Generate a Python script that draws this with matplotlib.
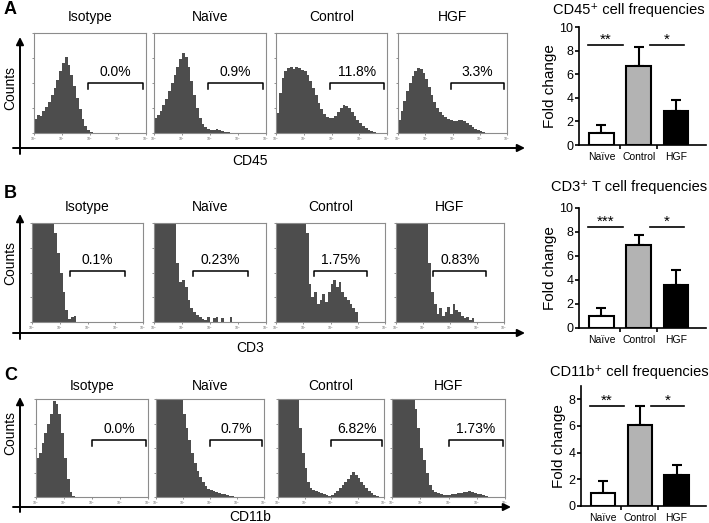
import numpy as np
import matplotlib.pyplot as plt

plt.rcParams['font.family'] = ['Liberation Sans', 'DejaVu Sans']

# flow histograms: counts (% of panel height) in 0.1-decade bins, log10 0..4
iso_a = [14, 18, 17, 22, 26, 31, 38, 45, 53, 62, 70, 76, 68, 58, 47, 35, 24, 14, 7, 3,
         1, 0, 0, 0, 0, 0, 0, 0, 0, 0, 0, 0, 0, 0, 0, 0, 0, 0, 0, 0]
naive_a = [15, 18, 22, 28, 34, 42, 50, 58, 66, 74, 80, 76, 66, 52, 38, 25, 15, 9, 6, 4,
           3, 3, 4, 3, 2, 1, 1, 0, 0, 0, 0, 0, 0, 0, 0, 0, 0, 0, 0, 0]
ctrl_a = [20, 40, 55, 62, 65, 66, 64, 66, 65, 63, 62, 58, 52, 45, 38, 30, 24, 19, 16, 15,
          15, 17, 21, 25, 28, 27, 25, 21, 17, 13, 10, 7, 5, 3, 2, 1, 0, 0, 0, 0]
hgf_a = [13, 22, 32, 42, 50, 57, 62, 65, 64, 60, 54, 46, 38, 31, 25, 21, 18, 16, 14, 13,
         12, 12, 13, 13, 12, 10, 8, 6, 4, 3, 2, 1, 0, 0, 0, 0, 0, 0, 0, 0]

iso_b = [150, 150, 150, 150, 150, 150, 150, 150, 90, 70, 50, 30, 12, 3, 5, 6, 0, 0, 0, 0,
         0, 0, 0, 0, 0, 0, 0, 0, 0, 0, 0, 0, 0, 0, 0, 0, 0, 0, 0, 0]
naive_b = [150, 150, 150, 150, 150, 150, 150, 120, 60, 40, 42, 35, 22, 14, 10, 7, 5, 3, 2, 5,
           0, 4, 5, 0, 4, 0, 0, 5, 0, 0, 0, 0, 0, 0, 0, 0, 0, 0, 0, 0]
ctrl_b = [150, 150, 150, 150, 150, 150, 150, 150, 150, 150, 150, 90, 38, 25, 30, 18, 22, 28, 20, 30,
          38, 42, 35, 40, 30, 25, 22, 18, 14, 10, 0, 0, 0, 0, 0, 0, 0, 0, 0, 0]
hgf_b = [150, 150, 150, 150, 150, 150, 150, 150, 150, 150, 150, 110, 60, 30, 18, 8, 14, 6, 10, 15,
         8, 18, 12, 10, 6, 4, 5, 2, 4, 0, 0, 0, 0, 0, 0, 0, 0, 0, 0, 0]

iso_c = [40, 45, 55, 65, 75, 85, 98, 95, 85, 65, 40, 18, 5, 1, 0, 0, 0, 0, 0, 0,
         0, 0, 0, 0, 0, 0, 0, 0, 0, 0, 0, 0, 0, 0, 0, 0, 0, 0, 0, 0]
naive_c = [150, 150, 150, 150, 150, 150, 150, 150, 150, 100, 85, 70, 58, 45, 35, 27, 20, 15, 11, 8,
           7, 6, 5, 4, 3, 3, 2, 1, 1, 0, 0, 0, 0, 0, 0, 0, 0, 0, 0, 0]
ctrl_c = [150, 150, 150, 150, 150, 150, 150, 120, 70, 45, 30, 15, 9, 7, 6, 5, 4, 3, 2, 1,
          2, 4, 6, 9, 12, 15, 18, 22, 26, 22, 19, 15, 12, 9, 6, 4, 2, 1, 0, 0]
hgf_c = [150, 150, 150, 150, 150, 150, 150, 150, 90, 70, 50, 38, 25, 12, 7, 5, 4, 3, 2, 2,
         2, 3, 3, 4, 4, 5, 5, 6, 5, 4, 3, 3, 2, 1, 0, 0, 0, 0, 0, 0]

groups = ['Isotype', 'Naïve', 'Control', 'HGF']
pct_a = ['0.0%', '0.9%', '11.8%', '3.3%']
pct_b = ['0.1%', '0.23%', '1.75%', '0.83%']
pct_c = ['0.0%', '0.7%', '6.82%', '1.73%']

# bar charts (fold change)
bar_labels = ['Naïve', 'Control', 'HGF']
fold_a = [1.0, 6.7, 2.9]
err_a = [0.7, 1.6, 0.9]
fold_b = [1.0, 6.9, 3.6]
err_b = [0.7, 0.85, 1.2]
fold_c = [1.0, 6.05, 2.3]
err_c = [0.85, 1.45, 0.8]
bar_colors = ['white', '#b3b3b3', 'black']

W, H = 709, 523
fig = plt.figure(figsize=(W / 100, H / 100), dpi=100)


def box(x0, y0, x1, y1):
    return [x0 / W, 1 - y1 / H, (x1 - x0) / W, (y1 - y0) / H]


# overlay for arrows and free text, pixel coords
ov = fig.add_axes([0, 0, 1, 1])
ov.set_xlim(0, W)
ov.set_ylim(H, 0)
ov.axis('off')

rows = [
    dict(letter='A', ly=10, ty=17, y=(33, 133), xs=[(34, 146), (154, 266), (276, 387), (398, 507)],
         hists=[iso_a, naive_a, ctrl_a, hgf_a], pct=pct_a, gate=(1.93, 3.88, 50),
         hy=148, vtop=37, vbot=154, hend=525, counts_y=88, xlab='CD45', xlab_y=161),
    dict(letter='B', ly=193, ty=207, y=(223, 322), xs=[(32, 143), (154, 266), (276, 385), (396, 504)],
         hists=[iso_b, naive_b, ctrl_b, hgf_b], pct=pct_b, gate=(1.38, 3.35, 52),
         hy=333, vtop=214, vbot=339, hend=525, counts_y=263, xlab='CD3', xlab_y=348),
    dict(letter='C', ly=376, ty=386, y=(399, 497), xs=[(36, 148), (156, 264), (278, 384), (392, 505)],
         hists=[iso_c, naive_c, ctrl_c, hgf_c], pct=pct_c, gate=(2.0, 3.93, 58),
         hy=507, vtop=397, vbot=512, hend=511, counts_y=433, xlab='CD11b', xlab_y=517),
]

edges = np.arange(41) * 0.1
for r in rows:
    ov.text(4, r['ly'], r['letter'], fontsize=13, fontweight='bold', va='center', ha='left')
    ov.text(10, r['counts_y'], 'Counts', fontsize=10, rotation=90, va='center', ha='center')
    ov.text(250, r['xlab_y'], r['xlab'], fontsize=10, va='center', ha='center')
    ov.annotate('', xy=(20, r['vtop']), xytext=(20, r['vbot']),
                arrowprops=dict(arrowstyle='-|>', lw=1.4, color='k', mutation_scale=11,
                                shrinkA=0, shrinkB=0))
    ov.annotate('', xy=(r['hend'], r['hy']), xytext=(13, r['hy']),
                arrowprops=dict(arrowstyle='-|>', lw=1.4, color='k', mutation_scale=11,
                                shrinkA=0, shrinkB=0))
    for (x0, x1), vals, name, pct in zip(r['xs'], r['hists'], groups, r['pct']):
        ax = fig.add_axes(box(x0, r['y'][0], x1, r['y'][1]))
        ax.stairs(vals, edges, fill=True, color='#4d4d4d')
        ax.set_xlim(0, 4)
        ax.set_ylim(0, 100)
        for s in ax.spines.values():
            s.set_color('#8c8c8c')
            s.set_linewidth(0.8)
        ax.set_xticks(range(5))
        ax.set_xticklabels(['10$^{%d}$' % i for i in range(5)])
        ax.set_yticks([0, 25, 50, 75, 100])
        ax.set_yticklabels([])
        ax.tick_params(length=1.5, width=0.5, labelsize=2.5, pad=0.5, colors='#666666')
        g0, g1, gy = r['gate']
        ax.plot([g0, g0, g1, g1], [gy - 6, gy, gy, gy - 6], color='k', lw=1.1)
        ax.text((g0 + g1) / 2, gy + 4, pct, fontsize=10, ha='center', va='bottom')
        ov.text((x0 + x1) / 2, r['ty'], name, fontsize=10, ha='center', va='center')

bars = [
    dict(pos=box(579, 27, 706, 145), ylim=(0, 10), yt=[0, 2, 4, 6, 8, 10], vals=fold_a, err=err_a,
         title='CD45⁺ cell frequencies', ty=10, stars=('**', '*'), sy=8.45),
    dict(pos=box(579, 208, 706, 328), ylim=(0, 10), yt=[0, 2, 4, 6, 8, 10], vals=fold_b, err=err_b,
         title='CD3⁺ T cell frequencies', ty=187, stars=('***', '*'), sy=8.4),
    dict(pos=box(581, 386, 706, 506), ylim=(0, 9), yt=[0, 2, 4, 6, 8], vals=fold_c, err=err_c,
         title='CD11b⁺ cell frequencies', ty=372, stars=('**', '*'), sy=7.5),
]

xpos = np.arange(3)
for b in bars:
    ax = fig.add_axes(b['pos'])
    ax.bar(xpos, b['vals'], width=0.66, color=bar_colors, edgecolor='black', linewidth=1.5, zorder=2)
    ax.errorbar(xpos, b['vals'], yerr=[[0, 0, 0], b['err']], fmt='none', ecolor='black',
                elinewidth=1.5, capsize=3.5, capthick=1.5, zorder=1)
    ax.set_xlim(-0.6, 2.8)
    ax.set_ylim(*b['ylim'])
    ax.set_yticks(b['yt'])
    ax.set_xticks(xpos)
    ax.set_xticklabels(bar_labels)
    ax.set_xticks([0.5, 1.5], minor=True)
    ax.tick_params(axis='x', which='major', length=0, labelsize=7.5, pad=5)
    ax.tick_params(axis='x', which='minor', length=3, width=1.2)
    ax.tick_params(axis='y', length=3, width=1.2, labelsize=9, pad=1)
    ax.spines['top'].set_visible(False)
    ax.spines['right'].set_visible(False)
    ax.spines['left'].set_linewidth(1.2)
    ax.spines['bottom'].set_linewidth(1.2)
    ax.set_ylabel('Fold change', fontsize=11, labelpad=2)
    ax.patch.set_alpha(0)
    ax.plot([-0.35, 0.57], [b['sy'], b['sy']], color='k', lw=1.2)
    ax.plot([1.3, 2.2], [b['sy'], b['sy']], color='k', lw=1.2)
    ax.text(0.11, b['sy'] - 0.1, b['stars'][0], fontsize=11, ha='center', va='bottom')
    ax.text(1.75, b['sy'] - 0.1, b['stars'][1], fontsize=11, ha='center', va='bottom')
    ov.text(629, b['ty'], b['title'], fontsize=10.5, ha='center', va='center')

fig.savefig('out.png', dpi=100)
